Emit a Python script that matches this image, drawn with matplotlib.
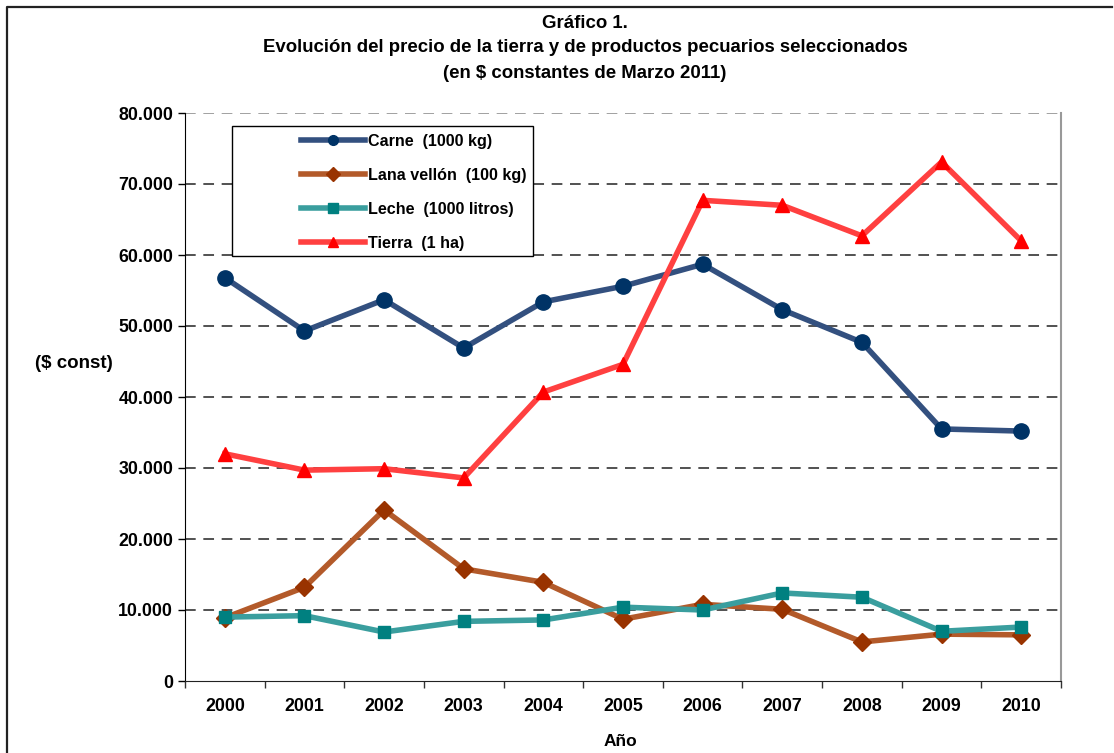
import matplotlib
matplotlib.use("Agg")
import matplotlib.pyplot as plt
from matplotlib.lines import Line2D
from matplotlib.patches import Rectangle
from matplotlib.ticker import FuncFormatter

plt.rcParams['font.family'] = ['Liberation Sans', 'DejaVu Sans']

years = ['2000', '2001', '2002', '2003', '2004', '2005', '2006', '2007', '2008', '2009', '2010']
carne = [56800, 49300, 53700, 46900, 53400, 55600, 58700, 52300, 47700, 35500, 35200]
lana = [8900, 13200, 24100, 15800, 13900, 8700, 10800, 10100, 5500, 6600, 6500]
leche = [9000, 9200, 6900, 8400, 8600, 10400, 10000, 12400, 11800, 7000, 7600]
tierra = [32000, 29700, 29900, 28600, 40700, 44600, 67700, 67000, 62700, 73100, 62000]

labels = ['Carne  (1000 kg)', 'Lana vellón  (100 kg)', 'Leche  (1000 litros)', 'Tierra  (1 ha)']
y_ticks = [0, 10000, 20000, 30000, 40000, 50000, 60000, 70000, 80000]

W, H = 1114, 753
fig = plt.figure(figsize=(W / 100, H / 100), dpi=100)
AX_L, AX_R, AX_T, AX_B = 185, 1061, 113, 681
ax = fig.add_axes([AX_L / W, 1 - AX_B / H, (AX_R - AX_L) / W, (AX_B - AX_T) / H])

x = list(range(len(years)))
series = [
    (carne, '#33507f', '#003366', 'o', 11),
    (lana, '#b35a2a', '#993300', 'D', 9),
    (leche, '#3a9e9e', '#008080', 's', 9),
    (tierra, '#ff4040', '#ff0000', '^', 10),
]
handles = []
for (vals, lc, mc, mk, ms), lab in zip(series, labels):
    ax.plot(x, vals, color=lc, lw=4, marker=mk, markersize=ms,
            markerfacecolor=mc, markeredgecolor=mc, zorder=3)
    handles.append(Line2D([0], [0], color=lc, lw=4, marker=mk, markersize=7,
                          markerfacecolor=mc, markeredgecolor=mc))

ax.set_xlim(-0.5, len(years) - 0.5)
ax.set_ylim(0, 80000)
ax.set_yticks(y_ticks)
ax.yaxis.set_major_formatter(FuncFormatter(lambda v, p: '0' if v == 0 else f"{int(v):,}".replace(',', '.')))
ax.set_xticks(x)
ax.set_xticklabels(years)
ax.set_xticks([i + 0.5 for i in range(-1, len(years))], minor=True)
ax.tick_params(axis='x', which='major', length=0, pad=12)
ax.tick_params(axis='x', which='minor', length=5, width=1, color='#333333')
ax.tick_params(axis='y', length=5, width=1, direction='out')
for lbl in ax.get_xticklabels() + ax.get_yticklabels():
    lbl.set_fontweight('bold')
    lbl.set_fontsize(12.8)

for yv in y_ticks[1:]:
    ax.axhline(yv, color='#222222' if yv < 80000 else '#888888', lw=1.1,
               ls=(0, (7, 5)), zorder=1)

ax.spines['top'].set_visible(False)
ax.spines['right'].set_color('#999999')
ax.spines['right'].set_linewidth(1.5)
ax.spines['left'].set_color('black')
ax.spines['bottom'].set_color('#222222')

fig.text(620 / W, 1 - 742 / H, 'Año', fontweight='bold', fontsize=12.5, ha='center', va='center')
fig.text(35 / W, 1 - 363 / H, '($ const)', fontweight='bold', fontsize=13.5, va='center', ha='left')

TCX = 585 / W
fig.text(TCX, 1 - 24 / H, 'Gráfico 1.', fontweight='bold', fontsize=13.4, ha='center', va='center')
fig.text(TCX, 1 - 48 / H, 'Evolución del precio de la tierra y de productos pecuarios seleccionados',
         fontweight='bold', fontsize=13.4, ha='center', va='center')
fig.text(TCX, 1 - 73 / H, '(en $ constantes de Marzo 2011)', fontweight='bold', fontsize=13.4,
         ha='center', va='center')

# legend frame (drawn separately) and frameless legend inside
fx = lambda px: (px - AX_L) / (AX_R - AX_L)
fy = lambda py: 1 - (py - AX_T) / (AX_B - AX_T)
ax.add_patch(Rectangle((fx(232), fy(256)), fx(533) - fx(232), fy(126) - fy(256),
                       transform=ax.transAxes, facecolor='white', edgecolor='black',
                       lw=1.0, zorder=5))
leg = ax.legend(handles, labels, loc='upper left', bbox_to_anchor=(fx(296), fy(129)),
                frameon=False, handlelength=4.0, labelspacing=1.18, borderpad=0.3,
                handletextpad=0.2, borderaxespad=0,
                prop={'weight': 'bold', 'size': 11.6})
leg.set_zorder(6)

# outer frame
fig.add_artist(Line2D([7 / W, 7 / W, 1112 / W], [0, 1 - 7 / H, 1 - 7 / H],
                      transform=fig.transFigure, color='#222222', lw=1.6))

fig.savefig('out.png', dpi=100)
